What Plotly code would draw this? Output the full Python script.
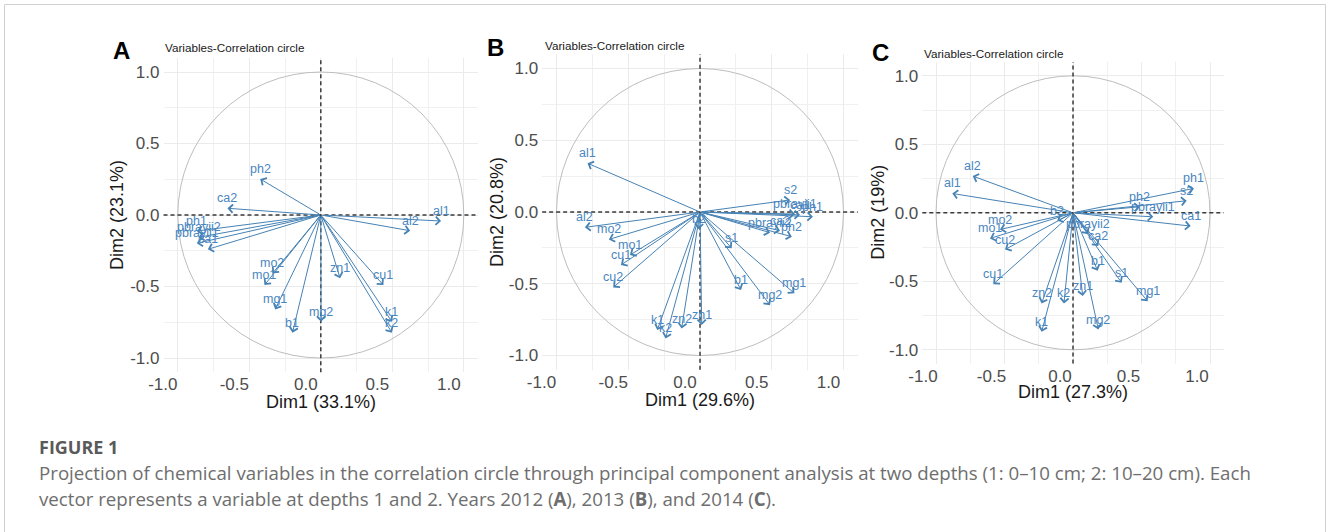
import plotly.graph_objects as go

W, H = 1328, 532

# ---------------- data ----------------
A_vars = ["ph1", "ph2", "ca1", "ca2", "al1", "al2", "pbrayii1", "pbrayii2", "mo1", "mo2",
          "mg1", "mg2", "b1", "zn1", "cu1", "k1", "k2"]
A_dim1 = [-0.867, -0.424, -0.790, -0.653, 0.841, 0.625, -0.867, -0.855, -0.394, -0.338,
          -0.319, 0.002, -0.198, 0.135, 0.438, 0.497, 0.497]
A_dim2 = [-0.112, 0.252, -0.240, 0.047, -0.042, -0.110, -0.198, -0.156, -0.490, -0.408,
          -0.660, -0.746, -0.823, -0.443, -0.490, -0.746, -0.823]

B_vars = ["al1", "al2", "mo2", "mo1", "cu1", "cu2", "k1", "k2", "zn2", "zn1", "s1", "b1",
          "mg2", "mg1", "s2", "ph1", "ca1", "pbrayii1", "ph2", "ca2", "pbrayii2", "b2"]
B_dim1 = [-0.784, -0.802, -0.635, -0.488, -0.551, -0.605, -0.298, -0.240, -0.128, 0.012,
          0.221, 0.286, 0.488, 0.658, 0.628, 0.787, 0.697, 0.662, 0.640, 0.558, 0.488, -0.010]
B_dim2 = [0.340, -0.107, -0.191, -0.300, -0.370, -0.526, -0.823, -0.881, -0.812, -0.788,
          -0.253, -0.544, -0.649, -0.567, 0.084, -0.033, -0.020, -0.014, -0.172, -0.130,
          -0.144, -0.120]

C_vars = ["ph1", "s2", "ph2", "pbrayii1", "ca1", "al2", "al1", "b2", "pbrayii2", "ca2",
          "mo2", "mo1", "cu2", "cu1", "b1", "s1", "mg1", "zn1", "k2", "zn2", "k1", "mg2"]
C_dim1 = [0.883, 0.830, 0.489, 0.586, 0.859, -0.732, -0.881, -0.115, 0.112, 0.185,
          -0.533, -0.606, -0.496, -0.582, 0.180, 0.355, 0.545, 0.071, -0.066, -0.229,
          -0.229, 0.185]
C_dim2 = [0.178, 0.088, 0.044, -0.029, -0.097, 0.268, 0.141, -0.058, -0.156, -0.243,
          -0.122, -0.187, -0.268, -0.521, -0.423, -0.511, -0.645, -0.608, -0.662, -0.662,
          -0.869, -0.852]

letters = ["A", "B", "C"]
dim1_titles = ["Dim1 (33.1%)", "Dim1 (29.6%)", "Dim1 (27.3%)"]
dim2_titles = ["Dim2 (23.1%)", "Dim2 (20.8%)", "Dim2 (19%)"]
tick_vals = [-1.0, -0.5, 0.0, 0.5, 1.0]
tick_text = ["-1.0", "-0.5", "0.0", "0.5", "1.0"]

# ---------------- layout geometry (pixels) ----------------
panels = [
    dict(cx=320.8, cy=215.0, r=143.0, shift=-15, vars=A_vars, d1=A_dim1, d2=A_dim2,
         ytitle_x=117, xtitle_y=402, title_x=163, title_y=47, let_x=121, let_y=50),
    dict(cx=700.0, cy=212.0, r=143.5, shift=-15, vars=B_vars, d1=B_dim1, d2=B_dim2,
         ytitle_x=497, xtitle_y=400, title_x=543, title_y=45, let_x=495, let_y=47),
    dict(cx=1073.0, cy=212.8, r=137.0, shift=-13, vars=C_vars, d1=C_dim1, d2=C_dim2,
         ytitle_x=878, xtitle_y=392, title_x=922, title_y=53, let_x=880, let_y=52),
]
LIM = 1.1

def px(x):
    return x / W

def py(y):
    return 1 - y / H

ARROW = "#4682B4"
LABEL = "#4A86C0"
FONT = "Liberation Sans, Arial, sans-serif"

fig = go.Figure()
layout = dict(
    width=W, height=H, margin=dict(l=0, r=0, t=0, b=0, autoexpand=False),
    paper_bgcolor="white", plot_bgcolor="white", showlegend=False,
    annotations=[], shapes=[],
)

for i, p in enumerate(panels):
    n = "" if i == 0 else str(i + 1)
    xa, ya = "x" + n, "y" + n
    x0, x1 = p["cx"] - LIM * p["r"], p["cx"] + LIM * p["r"]
    y0, y1 = p["cy"] - LIM * p["r"], p["cy"] + LIM * p["r"]
    axis_common = dict(
        range=[-LIM, LIM], showline=False, zeroline=False, ticks="", automargin=False,
        showgrid=True, gridcolor="#EBEBEB", gridwidth=1,
        minor=dict(dtick=0.25, tick0=0, showgrid=True, gridcolor="#F0F0F0", gridwidth=0.8),
        tickvals=tick_vals, ticktext=tick_text,
        tickfont=dict(family=FONT, size=17, color="#4D4D4D"),
        fixedrange=True,
    )
    layout["xaxis" + n] = dict(axis_common, domain=[px(x0), px(x1)], anchor=ya,
                               ticklabelshift=p["shift"], ticklabelstandoff=0)
    layout["yaxis" + n] = dict(axis_common, domain=[py(y1), py(y0)], anchor=xa,
                               ticklabelstandoff=3)

    # tips (invisible) so the subplot exists
    fig.add_trace(go.Scatter(x=p["d1"], y=p["d2"], mode="markers",
                             marker=dict(size=1, opacity=0), xaxis=xa, yaxis=ya,
                             hoverinfo="skip"))

    # correlation circle
    layout["shapes"].append(dict(type="circle", xref=xa, yref=ya, x0=-1, y0=-1, x1=1, y1=1,
                                 line=dict(color="#BDBDBD", width=1), layer="above"))
    # dashed axes through origin
    layout["shapes"].append(dict(type="line", xref=xa, yref=ya + " domain", x0=0, x1=0,
                                 y0=0, y1=1, line=dict(color="#3A3A3A", width=1.5, dash="4px,3px"),
                                 layer="above"))
    layout["shapes"].append(dict(type="line", xref=xa + " domain", yref=ya, x0=0, x1=1,
                                 y0=0, y1=0, line=dict(color="#3A3A3A", width=1.5, dash="4px,3px"),
                                 layer="above"))

    # arrows
    for v, dx, dy in zip(p["vars"], p["d1"], p["d2"]):
        layout["annotations"].append(dict(
            x=dx, y=dy, xref=xa, yref=ya, ax=0, ay=0, axref=xa, ayref=ya,
            text="", showarrow=True, arrowhead=4, arrowsize=1.6, arrowwidth=1,
            arrowcolor=ARROW, standoff=0, startstandoff=0))
    # labels
    for v, dx, dy in zip(p["vars"], p["d1"], p["d2"]):
        layout["annotations"].append(dict(
            x=dx, y=dy, xref=xa, yref=ya, text=v, showarrow=False, yshift=10,
            xanchor="center", yanchor="middle",
            font=dict(family=FONT, size=12.5, color=LABEL)))

    # axis titles
    layout["annotations"].append(dict(
        x=px(p["cx"]), y=py(p["xtitle_y"]), xref="paper", yref="paper", text=dim1_titles[i],
        showarrow=False, xanchor="center", yanchor="middle",
        font=dict(family=FONT, size=18, color="#1A1A1A")))
    layout["annotations"].append(dict(
        x=px(p["ytitle_x"]), y=py(p["cy"]), xref="paper", yref="paper", text=dim2_titles[i],
        showarrow=False, xanchor="center", yanchor="middle", textangle=-90,
        font=dict(family=FONT, size=18, color="#1A1A1A")))
    # panel title
    layout["annotations"].append(dict(
        x=px(p["title_x"]), y=py(p["title_y"]), xref="paper", yref="paper",
        text="Variables-Correlation circle", showarrow=False, xanchor="left", yanchor="middle",
        font=dict(family=FONT, size=11.7, color="#1A1A1A")))
    # panel letter
    layout["annotations"].append(dict(
        x=px(p["let_x"]), y=py(p["let_y"]), xref="paper", yref="paper",
        text="<b>" + letters[i] + "</b>", showarrow=False, xanchor="center", yanchor="middle",
        font=dict(family=FONT, size=24, color="#000000")))

# caption
CAP = "Open Sans, Noto Sans, sans-serif"
layout["annotations"].append(dict(
    x=px(37), y=py(447), xref="paper", yref="paper", text="<b>FIGURE 1</b>",
    showarrow=False, xanchor="left", yanchor="middle",
    font=dict(family=CAP, size=18, color="#5A5A5A")))
layout["annotations"].append(dict(
    x=px(37), y=py(472), xref="paper", yref="paper",
    text="Projection of chemical variables in the correlation circle through principal component "
         "analysis at two depths (1: 0\u201310 cm; 2: 10\u201320 cm). Each",
    showarrow=False, xanchor="left", yanchor="middle",
    font=dict(family=CAP, size=18.7, color="#6E6E6E")))
layout["annotations"].append(dict(
    x=px(37), y=py(498), xref="paper", yref="paper",
    text="vector represents a variable at depths 1 and 2. Years 2012 (<b>A</b>), 2013 (<b>B</b>), "
         "and 2014 (<b>C</b>).",
    showarrow=False, xanchor="left", yanchor="middle",
    font=dict(family=CAP, size=18.7, color="#6E6E6E")))

# figure border
layout["shapes"].append(dict(type="rect", xref="paper", yref="paper",
                             x0=px(4.5), x1=px(1325.5), y0=-0.1, y1=py(4.5),
                             line=dict(color="#D0D0D0", width=1), layer="above"))

fig.update_layout(**layout)
fig.write_html("out.html")
